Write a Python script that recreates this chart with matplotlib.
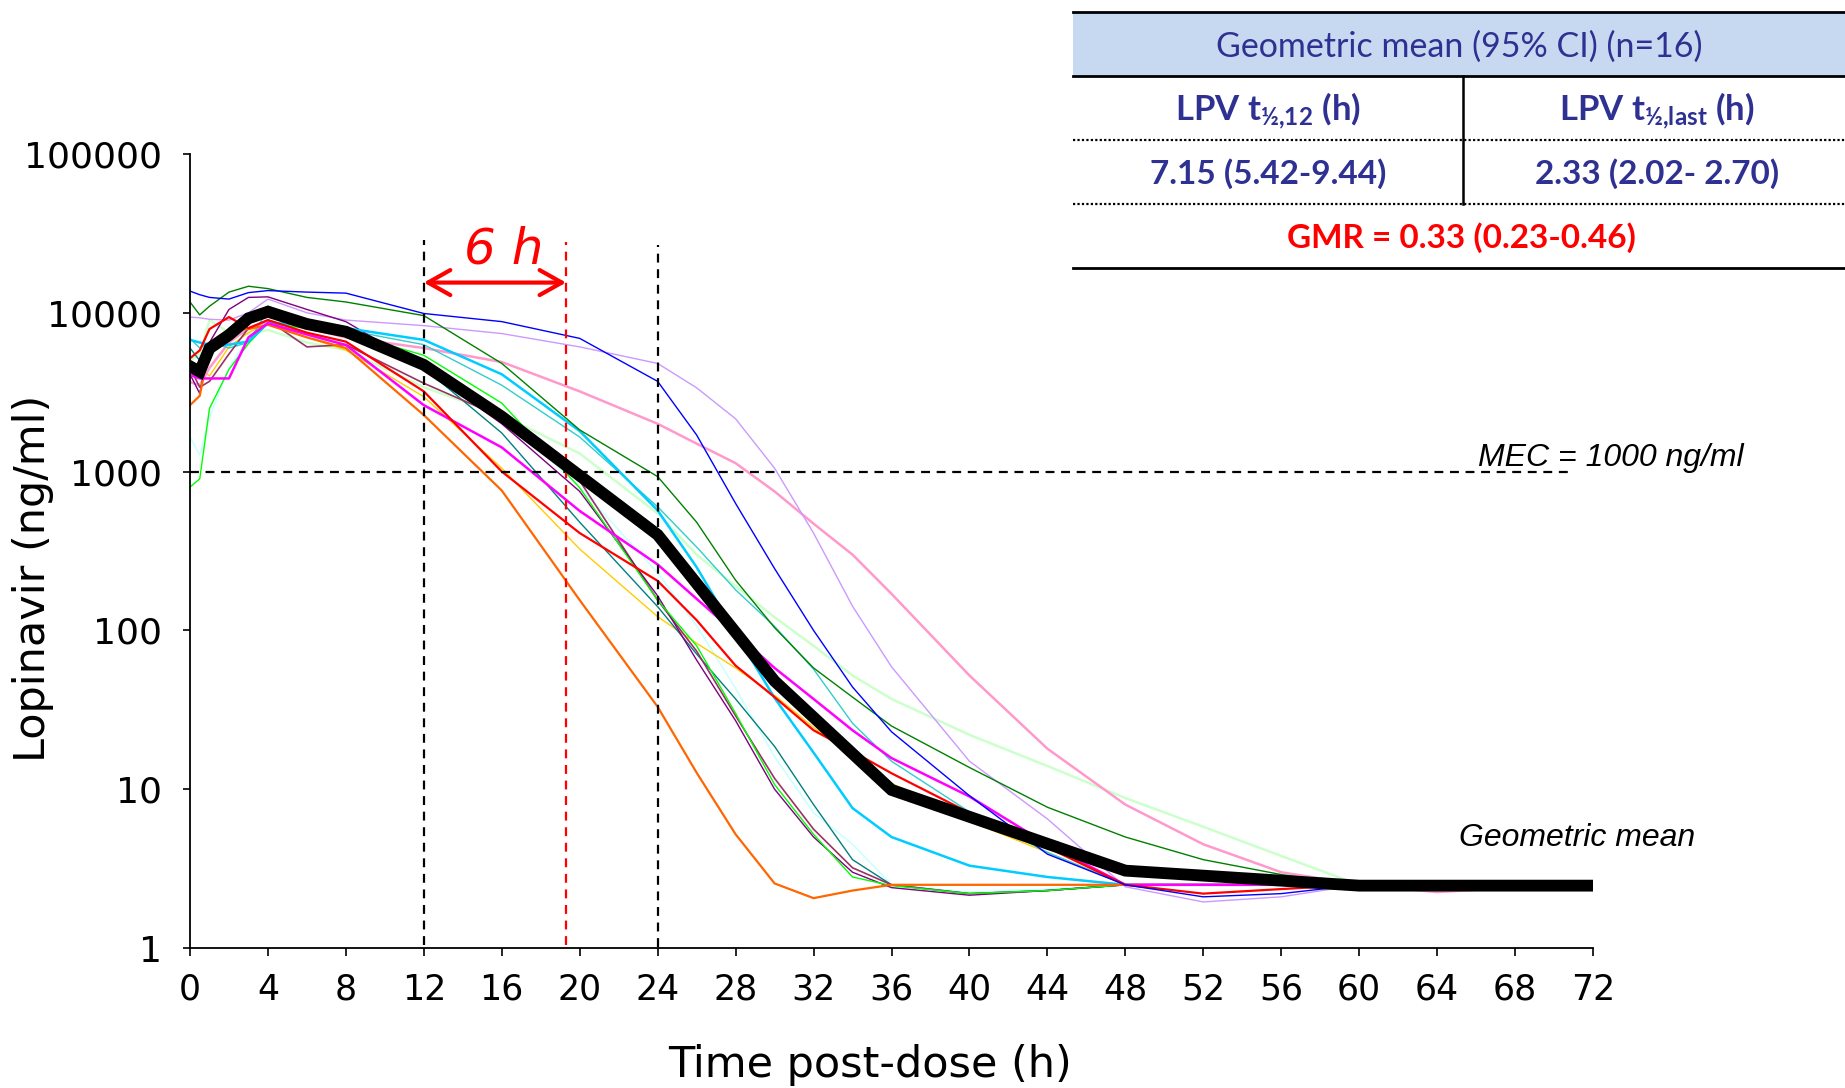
import numpy as np
import matplotlib
matplotlib.use("Agg")
import matplotlib.pyplot as plt
from matplotlib.patches import Rectangle

plt.rcParams['font.family'] = ['DejaVu Sans']
plt.rcParams['mathtext.fontset'] = 'custom'
plt.rcParams['mathtext.rm'] = 'Lato:bold'
plt.rcParams['mathtext.it'] = 'Lato:bold'
plt.rcParams['mathtext.bf'] = 'Lato:bold'

# sampling times (h) shared by the individual profiles
times = [0, 0.5, 1, 2, 3, 4, 6, 8, 12, 16, 20, 24, 26, 28, 30, 32, 34, 36, 40, 44, 48, 52, 56, 60, 64, 68, 72]

# individual lopinavir concentrations (ng/ml)
blue = [13700, 13000, 12500, 12200, 13400, 13800, 13500, 13300, 9900, 8800, 6900, 3700, 1700, 630, 245, 100, 44, 23, 9.1, 3.9, 2.5, 2.1, 2.2, 2.5, 2.5, 2.5, 2.5]
dgreen = [11700, 9700, 11000, 13500, 14700, 14200, 12500, 11700, 9600, 4800, 1830, 930, 480, 207, 104, 58, 38, 25, 13.7, 7.7, 5.0, 3.6, 2.9, 2.5, 2.5, 2.5, 2.5]
lavender = [9400, 9300, 9100, 9000, 10000, 12200, 10000, 9000, 8300, 7400, 6100, 4800, 3370, 2150, 1050, 410, 142, 59, 15, 6.5, 2.43, 1.95, 2.1, 2.5, 2.5, 2.5, 2.5]
pink = [3660, 3500, 4500, 6500, 8000, 8800, 8000, 7000, 6000, 4900, 3200, 2000, 1500, 1130, 750, 470, 300, 170, 52, 18, 8.0, 4.5, 3.0, 2.5, 2.25, 2.4, 2.5]
skyblue = [6750, 6500, 6300, 6300, 6600, 8600, 8500, 8000, 6750, 4100, 1800, 570, 250, 96, 37.5, 17, 7.6, 5.0, 3.3, 2.8, 2.5, 2.5, 2.5, 2.5, 2.5, 2.5, 2.5]
teal = [6000, 5000, 5500, 7000, 9500, 11000, 9000, 7500, 4500, 1750, 480, 141, 71, 37, 18.6, 8.0, 3.6, 2.5, 2.2, 2.3, 2.5, 2.5, 2.5, 2.5, 2.5, 2.5, 2.5]
lcyan = [1660, 1270, 2200, 4500, 7000, 9000, 8500, 7500, 5000, 2300, 800, 230, 107, 43, 16, 7.1, 4.5, 2.5, 2.25, 2.35, 2.5, 2.5, 2.5, 2.5, 2.5, 2.5, 2.5]
green = [800, 900, 2500, 4400, 6400, 8600, 8000, 7500, 5400, 2700, 790, 155, 80, 30, 10.7, 5.2, 2.8, 2.47, 2.2, 2.3, 2.5, 2.5, 2.5, 2.5, 2.5, 2.5, 2.5]
red = [5170, 5800, 7900, 9400, 8000, 9000, 7500, 6580, 3200, 1000, 410, 205, 116, 60, 38, 23.5, 17.3, 12.6, 7.1, 4.3, 2.5, 2.2, 2.35, 2.5, 2.5, 2.5, 2.5]
orange = [2620, 3000, 6100, 7800, 7900, 8400, 7000, 6000, 2270, 760, 155, 33, 12.7, 5.2, 2.55, 2.06, 2.3, 2.5, 2.5, 2.5, 2.5, 2.5, 2.5, 2.5, 2.5, 2.5, 2.5]
magenta = [4060, 3860, 3860, 3860, 7000, 8600, 7300, 6270, 2620, 1420, 565, 260, 158, 96, 58, 37, 23.5, 15.7, 9.0, 4.5, 2.5, 2.5, 2.5, 2.5, 2.5, 2.5, 2.5]
lgreen = [5000, 5500, 9000, 7500, 7300, 7800, 6500, 5830, 3400, 2270, 1300, 546, 300, 190, 121, 80, 52, 37, 22, 14, 8.8, 5.8, 3.8, 2.5, 2.5, 2.5, 2.5]
yellow = [5000, 4500, 4000, 6100, 7500, 8600, 7000, 5830, 2960, 1050, 325, 122, 83, 58, 39, 24.5, 16, 10.9, 6.3, 4.0, 2.5, 2.5, 2.5, 2.5, 2.5, 2.5, 2.5]
plum = [4500, 3400, 3700, 5500, 8000, 9000, 6100, 6300, 3600, 2200, 875, 155, 74, 29, 11.7, 5.6, 3.2, 2.5, 2.2, 2.3, 2.5, 2.5, 2.5, 2.5, 2.5, 2.5, 2.5]
purple = [4100, 3100, 6500, 10500, 12500, 12600, 10500, 8800, 4500, 2000, 750, 165, 65, 27, 10, 5.0, 3.0, 2.4, 2.15, 2.3, 2.5, 2.5, 2.5, 2.5, 2.5, 2.5, 2.5]
turq = [6900, 6000, 6500, 6000, 6500, 10500, 9000, 7800, 6300, 3500, 1650, 600, 335, 180, 106, 57, 26, 15, 7.2, 4.0, 2.5, 2.5, 2.5, 2.5, 2.5, 2.5, 2.5]

# geometric mean profile
mean_times = [0, 0.5, 1, 2, 3, 4, 6, 8, 12, 16, 24, 30, 36, 48, 60, 72]
mean_conc = [4600, 4260, 5970, 7250, 9230, 10160, 8500, 7600, 4700, 2220, 400, 48, 9.9, 3.07, 2.47, 2.47]

x_ticks = list(range(0, 73, 4))
y_ticks = [1, 10, 100, 1000, 10000, 100000]
mec = 1000
mec_end = 70.9
red_line_t = 19.3

header = 'Geometric mean (95% CI) (n=16)'
col_heads = [r'LPV t$_{\mathrm{½{,}12}}$ (h)', r'LPV t$_{\mathrm{½{,}last}}$ (h)']
col_vals = ['7.15 (5.42-9.44)', '2.33 (2.02- 2.70)']
gmr = 'GMR = 0.33 (0.23-0.46)'

profiles = [lcyan, lgreen, yellow, pink, lavender, turq, teal, plum, purple, green,
            skyblue, orange, magenta, red, dgreen, blue]
colors = ['#ccffff', '#ccffcc', '#ffcc00', '#ff99cc', '#cc99ff', '#33cccc', '#008080', '#993366',
          '#800080', '#00ff00', '#00ccff', '#ff6600', '#ff00ff', '#ff0000', '#008000', '#0000ff']
widths = [1.2, 1.8, 1.0, 1.8, 1.0, 1.0, 1.0, 1.2, 1.0, 1.0, 1.8, 1.6, 1.8, 1.6, 1.0, 1.0]

fig = plt.figure(figsize=(18.45, 10.88), dpi=100)
ax = fig.add_axes([190 / 1845, 1 - 948 / 1088, 1403 / 1845, 794 / 1088])

for conc, c, w in zip(profiles, colors, widths):
    ax.plot(times, conc, color=c, lw=w, zorder=2)

ax.plot(mean_times, mean_conc, color='black', lw=8.5, solid_joinstyle='miter', zorder=5)

# reference lines
ax.plot([0, mec_end], [mec, mec], color='black', lw=1.6, ls=(0, (4, 3)), zorder=4)
ax.plot([12, 12], [1.05, 28700], color='black', lw=1.6, ls=(0, (4, 3)), zorder=4)
ax.plot([24, 24], [1.02, 26700], color='black', lw=1.6, ls=(0, (4, 3)), zorder=4)
ax.plot([red_line_t, red_line_t], [1.04, 27900], color='red', lw=1.6, ls=(0, (4, 3)), zorder=4)

ax.annotate('', xy=(12, 15500), xytext=(red_line_t, 15500),
            arrowprops=dict(arrowstyle='<->,head_length=0.8,head_width=0.45', color='red',
                            lw=3, shrinkA=0, shrinkB=0, mutation_scale=20), zorder=6)
ax.text(16.1, 25000, '6 h', color='red', fontsize=36, style='italic', ha='center', va='center')
ax.text(66.1, 1085, 'MEC = 1000 ng/ml', fontsize=23, style='italic', family='Liberation Sans',
        ha='left', va='baseline', clip_on=False)
ax.text(65.1, 4.93, 'Geometric mean', fontsize=23, style='italic', family='Liberation Sans',
        ha='left', va='center', clip_on=False)

ax.set_yscale('log')
ax.set_xlim(0, 72)
ax.set_ylim(1, 100000)
ax.set_xticks(x_ticks)
ax.set_xticklabels([str(t) for t in x_ticks], fontsize=25)
ax.set_yticks(y_ticks)
ax.set_yticklabels([str(v) for v in y_ticks], fontsize=26)
ax.minorticks_off()
ax.tick_params(axis='y', direction='out', length=5, width=1.2, pad=15)
ax.tick_params(axis='x', direction='out', length=6, width=1.2, pad=12)
for s in ['top', 'right']:
    ax.spines[s].set_visible(False)
for s in ['left', 'bottom']:
    ax.spines[s].set_linewidth(1.3)

ax.set_xlabel('Time post-dose (h)', fontsize=31, va='center')
ax.xaxis.set_label_coords(0.485, -0.147)
ax.set_ylabel('Lopinavir (ng/ml)', fontsize=31, va='center')
ax.yaxis.set_label_coords(-0.112, 0.466)

# summary table in the top right corner (pixel coordinates)
tb = fig.add_axes([0, 0, 1, 1])
tb.set_xlim(0, 1845)
tb.set_ylim(1088, 0)
tb.axis('off')
navy = '#2e3192'
tb.add_patch(Rectangle((1073, 12), 772, 64, facecolor='#c6d9f1', edgecolor='none'))
tb.plot([1073, 1845], [12, 12], color='black', lw=2.0)
tb.plot([1073, 1845], [76, 76], color='black', lw=2.0)
tb.plot([1073, 1845], [268, 268], color='black', lw=2.0)
tb.plot([1073, 1845], [140, 140], color='black', lw=1.6, ls=(0, (1, 1)))
tb.plot([1073, 1845], [204, 204], color='black', lw=1.6, ls=(0, (1, 1)))
tb.plot([1463, 1463], [76, 204], color='black', lw=1.8)

tb.text(1459, 57, header, family='Lato', fontsize=24.5, color=navy, ha='center', va='baseline')
for cx, head, val in zip([1268, 1657], col_heads, col_vals):
    tb.text(cx, 121, head, family='Lato', fontweight='bold', fontsize=25, color=navy,
            ha='center', va='baseline')
    tb.text(cx, 184, val, family='Lato', fontweight='bold', fontsize=24, color=navy,
            ha='center', va='baseline')
tb.text(1461, 248, gmr, family='Lato', fontweight='bold', fontsize=24, color='#ff0000',
        ha='center', va='baseline')

fig.savefig('out.png', dpi=100)
